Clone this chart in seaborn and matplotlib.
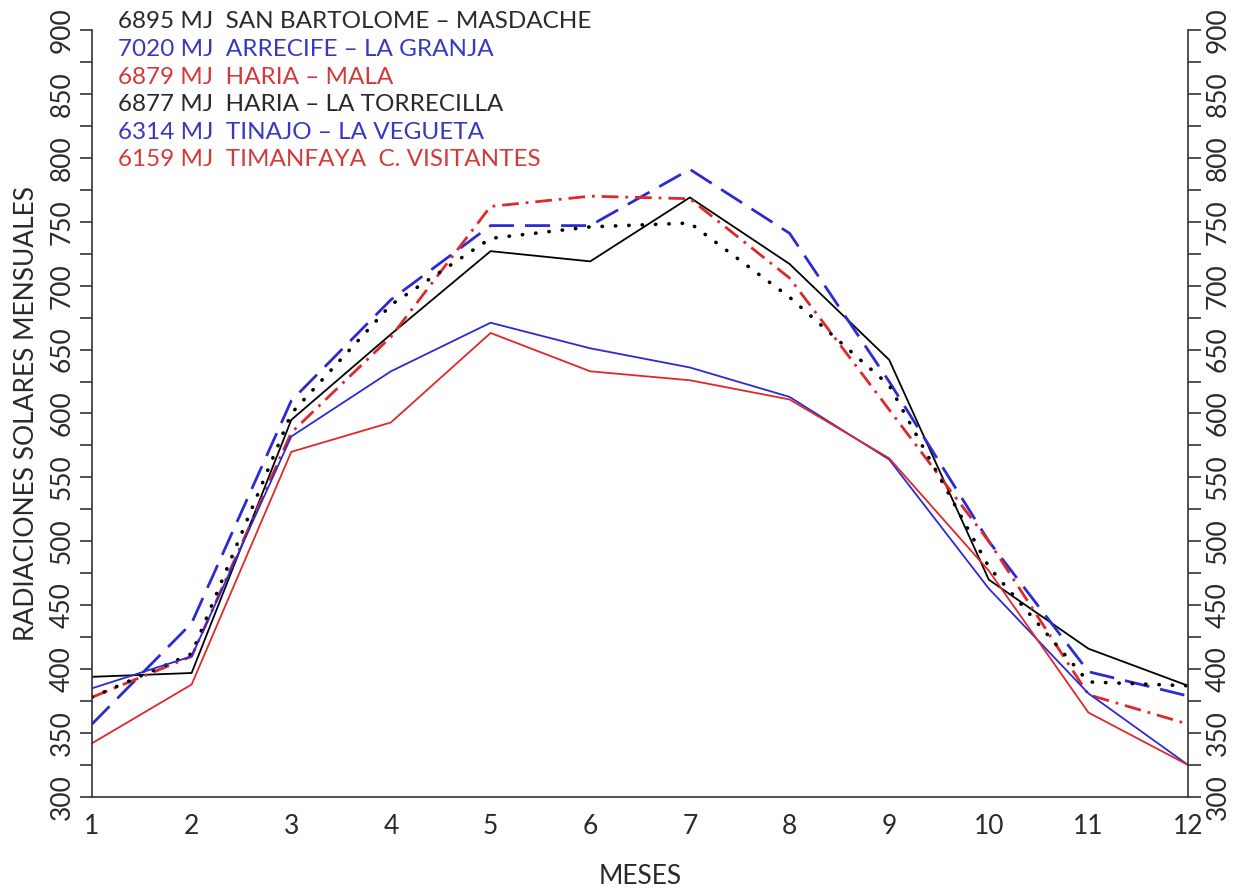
import matplotlib
matplotlib.use('Agg')
import matplotlib.pyplot as plt
import seaborn as sns
import pandas as pd

# datos mensuales (MJ)
meses = [1, 2, 3, 4, 5, 6, 7, 8, 9, 10, 11, 12]
san_bartolome = [394, 397, 595, 662, 727, 719, 769, 717, 642, 470, 416, 387]
arrecife = [357, 436, 610, 689, 747, 747, 791, 741, 625, 500, 398, 379]
haria_mala = [378, 410, 585, 660, 762, 770, 768, 706, 603, 500, 380, 357]
haria_torrecilla = [378, 412, 600, 685, 737, 746, 749, 691, 622, 480, 390, 387]
tinajo = [385, 410, 582, 633, 671, 651, 636, 613, 564, 463, 381, 325]
timanfaya = [342, 388, 570, 593, 663, 633, 626, 611, 565, 477, 366, 325]

etiquetas = ['6895 MJ  SAN BARTOLOME \u2013 MASDACHE',
             '7020 MJ  ARRECIFE \u2013 LA GRANJA',
             '6879 MJ  HARIA \u2013 MALA',
             '6877 MJ  HARIA \u2013 LA TORRECILLA',
             '6314 MJ  TINAJO \u2013 LA VEGUETA',
             '6159 MJ  TIMANFAYA  C. VISITANTES']

sns.set_theme(style='white')
plt.rcParams['font.family'] = ['Lato', 'DejaVu Sans']

azul = '#2b2bd6'
rojo = '#e02828'
estilos = [
    (san_bartolome, 'black', '-', 1.3, None),
    (arrecife, azul, '--', 2.0, (9, 4)),
    (haria_mala, rojo, '-.', 2.0, (6, 2.5, 1, 2.5)),
    (haria_torrecilla, 'black', ':', 2.6, (0.1, 3.6)),
    (tinajo, azul, '-', 1.3, None),
    (timanfaya, rojo, '-', 1.3, None),
]
colores_texto = ['#2a2a2a', '#3838c0', '#d43a3a', '#2a2a2a', '#3838c0', '#d43a3a']

fig = plt.figure(figsize=(12.33, 8.88), dpi=100)
ax = fig.add_axes([0.0746, 0.1025, 0.889, 0.8637])

for vals, c, ls, lw, dash in estilos:
    df = pd.DataFrame({'mes': meses, 'valor': vals})
    kw = {}
    if dash is not None:
        kw['dashes'] = dash
    sns.lineplot(data=df, x='mes', y='valor', ax=ax, color=c, lw=lw, **kw)
    if ls == ':':
        ax.lines[-1].set_dash_capstyle('round')

ax.set_xlim(1, 12)
ax.set_ylim(300, 900)
ax.set_xticks(meses)
ax.set_yticks(range(300, 901, 50))
ax.set_yticks(range(325, 900, 50), minor=True)

for s in ['left', 'bottom', 'right']:
    ax.spines[s].set_color('#333333')
    ax.spines[s].set_linewidth(1.2)
ax.spines['top'].set_visible(False)

ax.tick_params(axis='both', which='both', direction='out', length=9, width=1.2,
               color='#333333', labelsize=19, labelcolor='#2a2a2a')
ax.tick_params(axis='y', which='both', left=True, right=True, labelleft=True,
               labelright=True)
for t in ax.yaxis.get_major_ticks():
    t.label1.set_rotation(90)
    t.label1.set_va('center')
    t.label2.set_rotation(90)
    t.label2.set_va('center')

ax.set_xlabel('')
ax.set_ylabel('RADIACIONES SOLARES MENSUALES', fontsize=19, color='#2a2a2a', labelpad=8)
fig.text(640 / 1233, 1 - 876 / 888, 'MESES', fontsize=19, color='#2a2a2a',
         ha='center', va='center')

for i, (txt, c) in enumerate(zip(etiquetas, colores_texto)):
    fig.text(118 / 1233, 1 - (22 + i * 27.6) / 888, txt, color=c, fontsize=17.5,
             va='center', ha='left')

fig.savefig('out.png', dpi=100)
